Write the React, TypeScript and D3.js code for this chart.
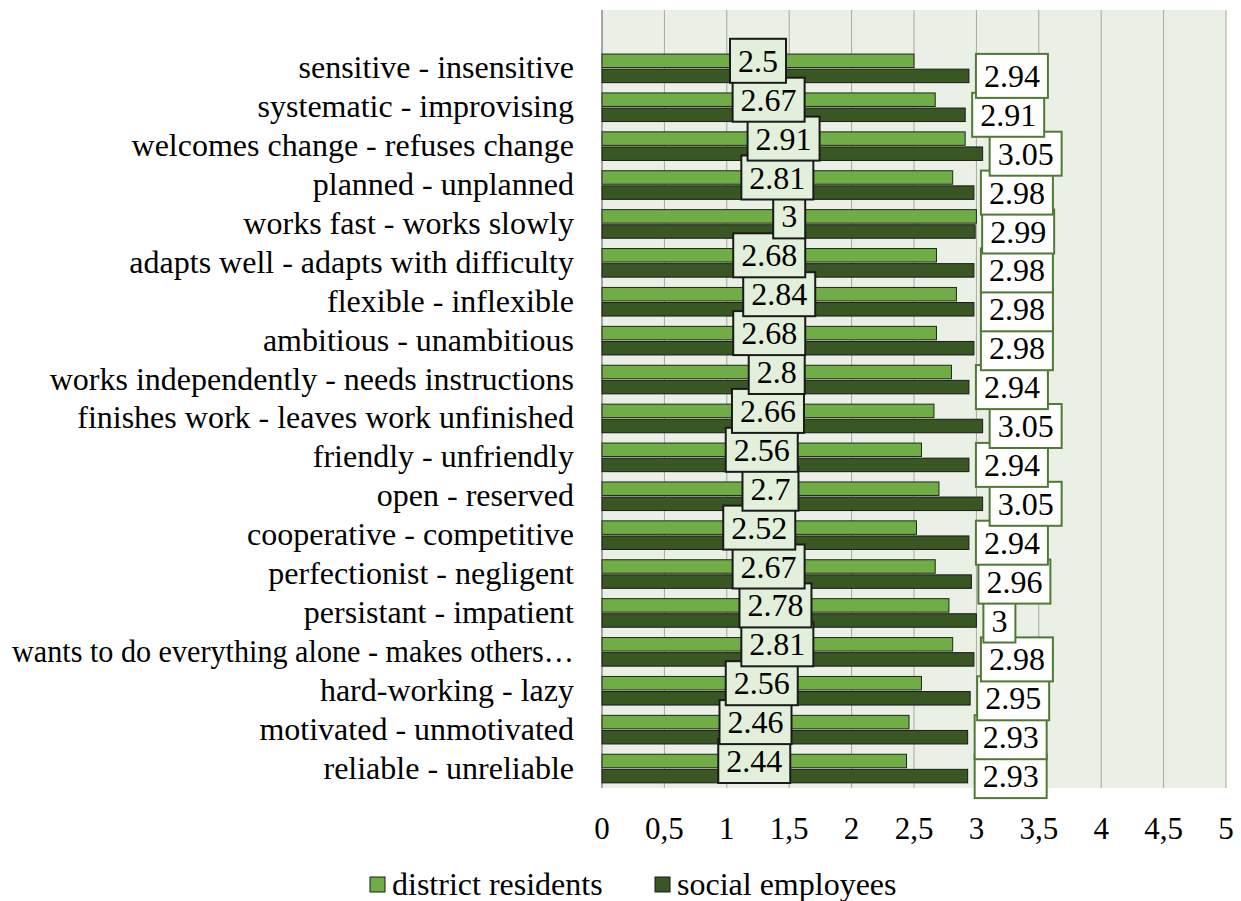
import * as d3 from 'd3';

const categories = [
  'sensitive - insensitive',
  'systematic - improvising',
  'welcomes change - refuses change',
  'planned - unplanned',
  'works fast - works slowly',
  'adapts well - adapts with difficulty',
  'flexible - inflexible',
  'ambitious - unambitious',
  'works independently - needs instructions',
  'finishes work - leaves work unfinished',
  'friendly - unfriendly',
  'open - reserved',
  'cooperative - competitive',
  'perfectionist - negligent',
  'persistant - impatient',
  'wants to do everything alone - makes others\u2026',
  'hard-working - lazy',
  'motivated - unmotivated',
  'reliable - unreliable',
];

const districtResidents = [2.5, 2.67, 2.91, 2.81, 3, 2.68, 2.84, 2.68, 2.8, 2.66, 2.56, 2.7, 2.52, 2.67, 2.78, 2.81, 2.56, 2.46, 2.44];
const socialEmployees = [2.94, 2.91, 3.05, 2.98, 2.99, 2.98, 2.98, 2.98, 2.94, 3.05, 2.94, 3.05, 2.94, 2.96, 3, 2.98, 2.95, 2.93, 2.93];
const xTicks = [0, 0.5, 1, 1.5, 2, 2.5, 3, 3.5, 4, 4.5, 5];
const seriesNames = ['district residents', 'social employees'];

const FONT = "'Liberation Serif', 'Times New Roman', serif";
const LIGHT = '#70ad47';
const DARK = '#385723';

const left = 602, right = 1226, top = 10, bottom = 788;
const labelRight = 574;
const x = d3.scaleLinear().domain([0, 5]).range([left, right]);
// an empty slot sits above the first category
const y = d3.scaleBand().domain(['', ...categories]).range([top, bottom]);
const step = y.bandwidth();
const barH = 13.5;
const center = (c: string) => y(c) + step / 2;

// Times-like width for number labels: digits 0.5em, point 0.25em
const labelWidth = (s: string, size: number) =>
  s.split('').reduce((a, ch) => a + (ch === '.' ? 0.25 : 0.5), 0) * size + 16;

const DataLabel = ({ text, bx, cy, fill, stroke }) => {
  const w = labelWidth(text, 32);
  return (
    <g>
      <rect x={bx} y={cy - 22} width={w} height={44} fill={fill} stroke={stroke} strokeWidth={2} />
      <text x={bx + w / 2} y={cy + 11} textAnchor="middle" fontFamily={FONT} fontSize={32} fill="#000">
        {text}
      </text>
    </g>
  );
};

const App = () => {
  const rev = categories.map((c, i) => i).reverse();
  return (
    <svg width={1241} height={901} style={{ position: 'absolute', left: 0, top: 0 }}>
      <rect x={left} y={top} width={right - left} height={bottom - top} fill="#ebf0e6" />
      {xTicks.map(d => (
        <line key={d} x1={x(d)} x2={x(d)} y1={top} y2={bottom}
          stroke={d === 0 ? '#8c8c8c' : '#a6a6a6'} strokeWidth={d === 0 ? 1.5 : 1} />
      ))}

      {categories.map((c, i) => (
        <g key={c}>
          <rect x={x(0)} y={center(c) - barH - 0.8} width={x(districtResidents[i]) - x(0)} height={barH}
            fill={LIGHT} stroke="#1e2a15" strokeWidth={1} />
          <rect x={x(0)} y={center(c) + 0.8} width={x(socialEmployees[i]) - x(0)} height={barH}
            fill={DARK} stroke="#1a1a1a" strokeWidth={1} />
          <text x={labelRight} y={center(c) + 10} textAnchor="end" fontFamily={FONT} fontSize={32} fill="#000"
            {...(c.length > 42 ? { textLength: labelRight - 12, lengthAdjust: 'spacingAndGlyphs' } : {})}>
            {c}
          </text>
        </g>
      ))}

      {xTicks.map(d => (
        <text key={d} x={x(d)} y={839} textAnchor="middle" fontFamily={FONT} fontSize={31} fill="#000">
          {String(d).replace('.', ',')}
        </text>
      ))}

      {rev.map(i => (
        <DataLabel key={'s' + i} text={String(socialEmployees[i])} bx={x(socialEmployees[i]) + 7}
          cy={center(categories[i]) + 0.8 + barH / 2} fill="#ffffff" stroke="#4f7a34" />
      ))}
      {rev.map(i => {
        const t = String(districtResidents[i]);
        return (
          <DataLabel key={'d' + i} text={t} bx={x(districtResidents[i] / 2) - labelWidth(t, 32) / 2}
            cy={center(categories[i]) - 0.8 - barH / 2} fill="#e2efda" stroke="#1a1a1a" />
        );
      })}

      {[{ name: seriesNames[0], color: LIGHT, lx: 370 }, { name: seriesNames[1], color: DARK, lx: 655 }].map(it => (
        <g key={it.name}>
          <rect x={it.lx} y={877} width={15} height={15} fill={it.color} stroke="#1a1a1a" strokeWidth={1} />
          <text x={it.lx + 22} y={895} fontFamily={FONT} fontSize={32} fill="#000">{it.name}</text>
        </g>
      ))}
    </svg>
  );
};

export default App;
